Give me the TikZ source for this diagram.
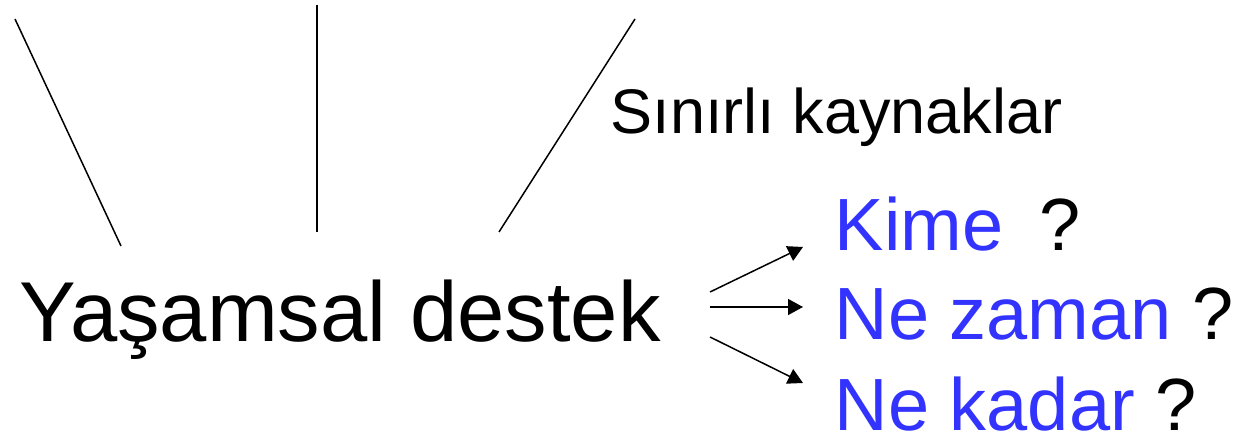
\documentclass[tikz,border=0pt]{standalone}
\usepackage{fontspec}
\setmainfont{Liberation Sans}
\usetikzlibrary{arrows.meta,positioning}
\definecolor{qblue}{RGB}{51,51,255}

\begin{document}
\begin{tikzpicture}[x=0.5pt,y=-0.5pt,line width=0.75pt,
  >={Triangle[length=7.5pt,width=8pt]},
  lbl/.style={inner sep=0pt,anchor=base west},
  big/.style={font=\fontsize{42.5}{50}\selectfont},
  mid/.style={font=\fontsize{37}{44}\selectfont},
  small/.style={font=\fontsize{31.5}{38}\selectfont}]
\useasboundingbox (0,0) rectangle (1240,437);
            \node[lbl,big] (yasam) at (19,342) {Yaşamsal destek};
            \node[lbl,small] (kaynak) at (610,134) {Sınırlı kaynaklar};
            \node[lbl,mid] (kime) at (834,251) {\textcolor{qblue}{Kime}\hspace{0.49em}?};
            \node[lbl,mid] (zaman) at (834,340) {\textcolor{qblue}{Ne zaman} ?};
            \node[lbl,mid] (kadar) at (834,430) {\textcolor{qblue}{Ne kadar} ?};
            \coordinate (L_1) at (15,19);   \coordinate (L_1e) at (121,246);
            \coordinate (L_2) at (317,5);   \coordinate (L_2e) at (317,232);
            \coordinate (L_3) at (635,19);  \coordinate (L_3e) at (499,232);
            \coordinate (A_1) at (710,292); \coordinate (A_1e) at (803,247);
            \coordinate (A_2) at (710,307); \coordinate (A_2e) at (803,307);
            \coordinate (A_3) at (710,337); \coordinate (A_3e) at (803,383);
            \path[draw]
            (L_1) edge (L_1e)
            (L_2) edge (L_2e)
            (L_3) edge (L_3e);
            \path[->]
            (A_1) edge (A_1e)
            (A_2) edge (A_2e)
            (A_3) edge (A_3e);
        \end{tikzpicture}
\end{document}
